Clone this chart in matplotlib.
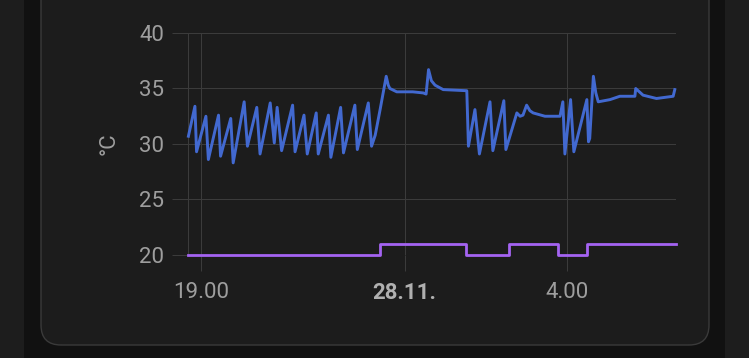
import matplotlib
matplotlib.use("Agg")
import matplotlib.pyplot as plt
from matplotlib.patches import FancyBboxPatch
from matplotlib.transforms import IdentityTransform

# hours since 00:00 on 27.11. (24 = midnight 28.11.)
temp_hours = [18.69, 18.85, 18.89, 19.12, 19.18, 19.43, 19.48, 19.73, 19.79, 20.06,
              20.14, 20.37, 20.45, 20.70, 20.80, 20.87, 20.98, 21.25, 21.31, 21.53,
              21.61, 21.83, 21.88, 22.13, 22.19, 22.43, 22.50, 22.78, 22.84, 23.11,
              23.19, 23.28, 23.40, 23.55, 23.60, 23.64, 23.81, 24.20, 24.46, 24.53,
              24.59, 24.66, 24.75, 24.95, 25.53, 25.57, 25.73, 25.84, 26.10, 26.17,
              26.44, 26.49, 26.76, 26.84, 26.91, 27.00, 27.08, 27.16, 27.45, 27.82,
              27.89, 27.94, 28.08, 28.16, 28.48, 28.52, 28.55, 28.64, 28.70, 28.76,
              29.05, 29.29, 29.66, 29.68, 29.86, 30.19, 30.60, 30.64]
temp_values = [30.7, 33.4, 29.3, 32.5, 28.6, 32.6, 28.9, 32.3, 28.3, 33.8,
               29.8, 33.3, 29.1, 33.7, 30.1, 33.3, 29.4, 33.5, 29.3, 32.6,
               29.1, 32.8, 29.1, 32.6, 28.8, 33.3, 29.2, 33.5, 29.5, 33.7,
               29.8, 30.8, 33.1, 36.1, 35.3, 35.0, 34.7, 34.7, 34.6, 34.5,
               36.7, 35.7, 35.3, 34.9, 34.8, 29.8, 33.1, 29.1, 33.8, 29.4,
               33.9, 29.5, 32.8, 32.5, 32.6, 33.5, 33.0, 32.8, 32.5, 32.5,
               33.8, 29.1, 34.0, 29.3, 34.0, 30.2, 30.5, 36.1, 34.6, 33.8,
               34.0, 34.3, 34.3, 35.0, 34.4, 34.1, 34.3, 34.9]

target_hours = [18.68, 23.40, 25.51, 26.57, 27.78, 28.48, 30.67]
target_values = [20, 21, 20, 21, 20, 21, 21]

tick_hours = [19, 24, 28]
tick_labels = ["19.00", "28.11.", "4.00"]
y_ticks = [20, 25, 30, 35, 40]

W, H = 749, 358
fig = plt.figure(figsize=(W / 100, H / 100), dpi=100)
fig.patch.set_facecolor("#1d1d1d")

# dark panel and the card behind the chart
fig.patches.append(FancyBboxPatch((24, -30), 701, 420, boxstyle="round,pad=0,rounding_size=12",
                                  transform=IdentityTransform(), facecolor="#111111",
                                  edgecolor="none", zorder=-3))
fig.patches.append(FancyBboxPatch((41, 13), 668, 400, boxstyle="round,pad=0,rounding_size=20",
                                  transform=IdentityTransform(), facecolor="#1c1c1c",
                                  edgecolor="#3a3a3a", linewidth=1.0, zorder=-2))

ax = fig.add_axes([188 / W, (H - 255) / H, (676 - 188) / W, (255 - 33) / H])
ax.set_facecolor("none")

grid_color = "#3b3b3b"
ax.plot(temp_hours, temp_values, color="#4269d0", lw=2.1, solid_joinstyle="round",
        zorder=3, clip_on=False)
ax.step(target_hours, target_values, where="post", color="#a463f2", lw=2.0, zorder=3,
        clip_on=False)

ax.set_xlim(18.68, 30.67)
ax.set_ylim(20, 40)
ax.set_yticks(y_ticks)
ax.set_xticks(tick_hours)
ax.set_xticklabels(tick_labels)
ax.grid(True, color=grid_color, lw=0.75)
ax.set_axisbelow(True)

for side in ["top", "right", "bottom"]:
    ax.spines[side].set_visible(False)
ax.spines["left"].set_color(grid_color)
ax.spines["left"].set_linewidth(0.75)

ax.tick_params(axis="y", length=11.5, width=0.75, color=grid_color, pad=5.5,
               labelsize=16, labelcolor="#9e9e9e")
ax.tick_params(axis="x", length=11.5, width=0.75, color=grid_color, pad=8,
               labelsize=16, labelcolor="#9e9e9e")
for lab in ax.get_xticklabels() + ax.get_yticklabels():
    lab.set_fontfamily("Roboto")
ax.get_xticklabels()[1].set_fontweight("bold")
ax.get_xticklabels()[1].set_color("#b0b0b0")

ax.set_ylabel("°C", fontsize=16, color="#9e9e9e", family="Roboto", labelpad=14)

fig.savefig("out.png", dpi=100, facecolor=fig.get_facecolor())
